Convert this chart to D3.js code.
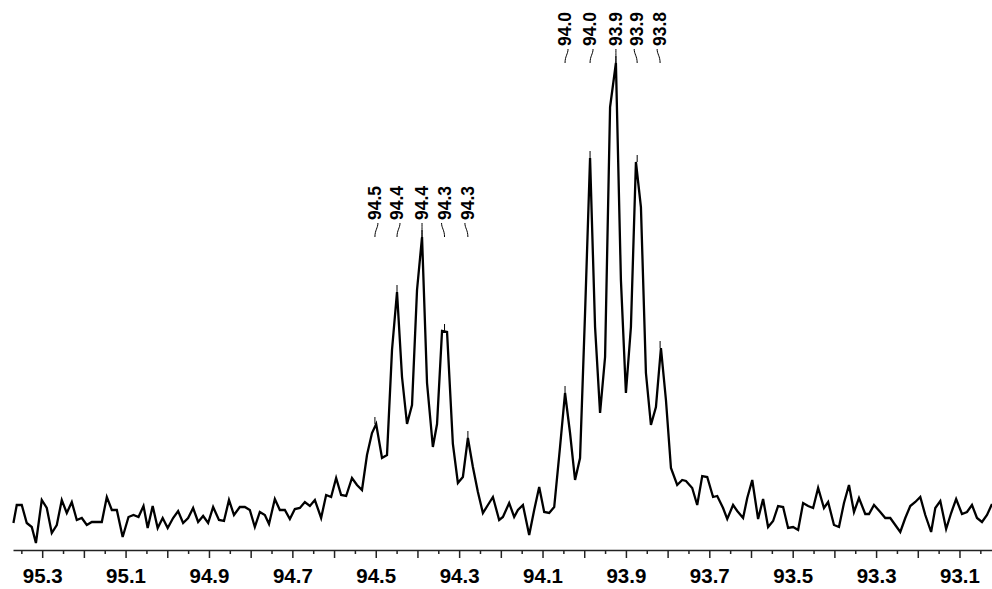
<!DOCTYPE html>
<html>
<head>
<meta charset="utf-8">
<script src="https://cdn.jsdelivr.net/npm/d3@7"></script>
<style>
  html, body { margin: 0; padding: 0; background: #fff; }
  svg { display: block; }
  text { font-family: "Liberation Sans", Arial, sans-serif; font-weight: bold; fill: #000; }
</style>
</head>
<body>
<div id="chart"></div>
<script>
const shifts = [
  95.369, 95.361, 95.349, 95.337, 95.325, 95.315, 95.301, 95.289, 95.277, 95.265,
  95.253, 95.241, 95.229, 95.217, 95.205, 95.193, 95.181, 95.169, 95.157, 95.145,
  95.133, 95.121, 95.107, 95.093, 95.081, 95.069, 95.057, 95.047, 95.035, 95.023,
  95.011, 94.999, 94.986, 94.974, 94.962, 94.950, 94.938, 94.926, 94.914, 94.902,
  94.890, 94.876, 94.864, 94.852, 94.840, 94.826, 94.814, 94.802, 94.790, 94.778,
  94.766, 94.756, 94.742, 94.730, 94.718, 94.706, 94.694, 94.682, 94.670, 94.658,
  94.646, 94.631, 94.619, 94.607, 94.595, 94.583, 94.571, 94.557, 94.545, 94.533,
  94.521, 94.509, 94.499, 94.485, 94.473, 94.461, 94.449, 94.437, 94.425, 94.413,
  94.401, 94.389, 94.377, 94.363, 94.353, 94.341, 94.329, 94.315, 94.303, 94.291,
  94.279, 94.267, 94.255, 94.243, 94.231, 94.219, 94.204, 94.195, 94.180, 94.168,
  94.159, 94.147, 94.132, 94.120, 94.108, 94.096, 94.084, 94.072, 94.058, 94.046,
  94.034, 94.022, 94.010, 93.998, 93.986, 93.974, 93.962, 93.950, 93.938, 93.924,
  93.912, 93.900, 93.888, 93.876, 93.864, 93.852, 93.840, 93.828, 93.816, 93.804,
  93.792, 93.777, 93.765, 93.756, 93.741, 93.729, 93.717, 93.705, 93.691, 93.681,
  93.667, 93.657, 93.643, 93.633, 93.619, 93.609, 93.597, 93.583, 93.571, 93.559,
  93.547, 93.535, 93.523, 93.511, 93.499, 93.487, 93.475, 93.463, 93.451, 93.439,
  93.425, 93.415, 93.401, 93.389, 93.377, 93.365, 93.353, 93.341, 93.326, 93.317,
  93.305, 93.290, 93.278, 93.266, 93.254, 93.242, 93.230, 93.218, 93.206, 93.194,
  93.182, 93.168, 93.158, 93.146, 93.132, 93.120, 93.108, 93.094, 93.082, 93.070,
  93.058, 93.046, 93.034, 93.022
];

// intensity (arbitrary units) at each shift
const intensity = [
  27, 45, 45, 27, 23, 7, 50, 42, 17, 25,
  50, 37, 48, 30, 32, 25, 28, 28, 28, 53,
  40, 40, 13, 33, 35, 33, 44, 22, 44, 22,
  32, 22, 32, 39, 27, 32, 42, 28, 34, 27,
  43, 30, 29, 50, 35, 43, 43, 40, 23, 38,
  35, 26, 51, 40, 40, 31, 41, 42, 48, 44,
  50, 32, 55, 53, 72, 55, 54, 72, 65, 60,
  95, 117, 126, 92, 95, 200, 258, 173, 126, 145,
  260, 313, 167, 103, 126, 219, 218, 106, 67, 73,
  112, 83, 58, 37, 45, 53, 30, 33, 47, 33,
  40, 45, 15, 40, 63, 38, 37, 43, 103, 157,
  117, 70, 92, 237, 392, 223, 137, 193, 443, 487,
  270, 157, 223, 388, 343, 177, 125, 143, 202, 150,
  82, 65, 70, 69, 62, 45, 74, 73, 53, 54,
  42, 31, 45, 39, 32, 52, 70, 31, 51, 23,
  29, 44, 43, 22, 23, 20, 47, 44, 42, 62,
  42, 48, 25, 23, 47, 65, 38, 52, 36, 36,
  45, 38, 32, 32, 25, 18, 32, 44, 48, 53,
  35, 18, 42, 49, 21, 37, 51, 36, 38, 45,
  32, 28, 35, 46
];

// picked peaks, two groups, with their printed labels
const peakShiftsA = [94.502, 94.449, 94.389, 94.335, 94.279];
const peakLabelsA = ["94.5", "94.4", "94.4", "94.3", "94.3"];
const peakShiftsB = [94.046, 93.986, 93.924, 93.873, 93.818];
const peakLabelsB = ["94.0", "94.0", "93.9", "93.9", "93.8"];

// axis ticks
const tickValues = [95.3, 95.1, 94.9, 94.7, 94.5, 94.3, 94.1, 93.9, 93.7, 93.5, 93.3, 93.1];
const tickLabels = ["95.3", "95.1", "94.9", "94.7", "94.5", "94.3", "94.1", "93.9", "93.7", "93.5", "93.3", "93.1"];

const width = 992, height = 589;
const axisY = 550;

const svg = d3.select("#chart").append("svg")
  .attr("width", width)
  .attr("height", height);

const x = d3.scaleLinear().domain([95.37, 93.022]).range([13, 992]);
const y = d3.scaleLinear().domain([0, 500]).range([axisY, 50]);

const points = shifts.map((s, i) => [s, intensity[i]]);

// axis: 0.1 ticks, labels every 0.2, plus small 0.05 ticks
const majorTicks = d3.range(95.3, 93.0, -0.1).map(v => +v.toFixed(2));
const minorTicks = d3.range(95.35, 93.0, -0.1).map(v => +v.toFixed(2));

svg.append("g")
  .attr("transform", `translate(0,${axisY})`)
  .call(d3.axisBottom(x).tickValues(minorTicks).tickSize(4).tickSizeOuter(0).tickFormat(""))
  .call(g => g.select(".domain").remove())
  .call(g => g.selectAll("line").attr("stroke", "#222").attr("stroke-width", 1.5));

svg.append("g")
  .attr("transform", `translate(0,${axisY})`)
  .call(d3.axisBottom(x).tickValues(majorTicks).tickSize(8).tickSizeOuter(0).tickPadding(10)
    .tickFormat(d => {
      const k = tickValues.findIndex(t => Math.abs(t - d) < 1e-6);
      return k >= 0 ? tickLabels[k] : "";
    }))
  .call(g => g.select(".domain").attr("stroke", "#222").attr("stroke-width", 1.5))
  .call(g => g.selectAll("line").attr("stroke", "#222").attr("stroke-width", 1.5))
  .call(g => g.selectAll("text")
    .style("font-family", '"Liberation Sans", Arial, sans-serif')
    .style("font-weight", "bold")
    .style("font-size", "20.5px")
    .attr("fill", "#000"));

// spectrum trace
svg.append("path")
  .datum(points)
  .attr("fill", "none")
  .attr("stroke", "#000")
  .attr("stroke-width", 2.3)
  .attr("stroke-linejoin", "miter")
  .attr("d", d3.line().x(d => x(d[0])).y(d => y(d[1])));

function peakHeight(s) {
  let best = 0;
  points.forEach(p => { if (Math.abs(p[0] - s) < 0.008 && p[1] > best) best = p[1]; });
  return best;
}

function drawPeakGroup(shiftsList, labels) {
  const heights = shiftsList.map(peakHeight);
  const leaderBottom = y(d3.max(heights));
  const leaderTop = leaderBottom - 14;
  const mid = (shiftsList.length - 1) / 2;
  const g = svg.append("g");

  shiftsList.forEach((s, i) => {
    const px = x(s);
    const off = i < mid ? 3 : (i > mid ? -3 : 0);

    // small marker above the peak top
    g.append("line")
      .attr("x1", px).attr("x2", px)
      .attr("y1", y(heights[i])).attr("y2", y(heights[i]) - 7)
      .attr("stroke", "#000").attr("stroke-width", 1);

    // leader from label down towards the peak
    g.append("path")
      .attr("fill", "none")
      .attr("stroke", "#000")
      .attr("stroke-width", 1)
      .attr("d", `M${px + off},${leaderTop} C${px + off},${leaderTop + 5} ${px},${leaderTop + 7} ${px},${leaderBottom}`);

    g.append("text")
      .attr("transform", `translate(${px},${leaderTop - 3}) rotate(-90)`)
      .attr("dy", "0.36em")
      .attr("text-anchor", "start")
      .style("font-size", "17.5px")
      .text(labels[i]);
  });
}

drawPeakGroup(peakShiftsA, peakLabelsA);
drawPeakGroup(peakShiftsB, peakLabelsB);
</script>
</body>
</html>
